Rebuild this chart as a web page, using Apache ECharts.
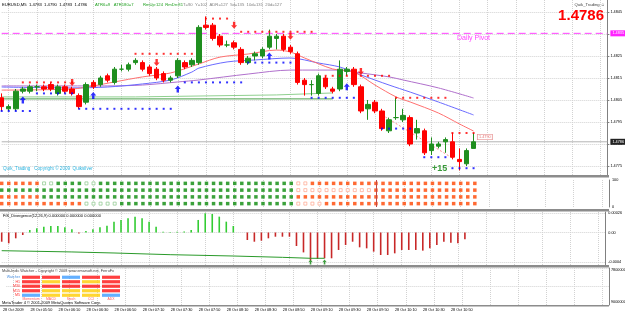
<!DOCTYPE html>
<html>
<head>
<meta charset="utf-8">
<script src="https://cdn.jsdelivr.net/npm/echarts@6/dist/echarts.min.js"></script>
<style>
html, body { margin: 0; padding: 0; background: #fff; }
#chart { width: 625px; height: 314px; }
</style>
</head>
<body>
<div id="chart"></div>
<script>
// EURUSD M5, bar 0 = 28 Oct 05:25
var START_MIN = 5 * 60 + 25;
var SLOTS = 87;

// [open, close, low, high]
var CANDLES = [
    [1.4806, 1.4802, 1.4800, 1.4808], [1.4801, 1.4802, 1.4800, 1.4803], [1.4801, 1.4809, 1.4800, 1.4810],
    [1.4809, 1.4810, 1.4808, 1.4811], [1.4809, 1.4811, 1.4808, 1.4812], [1.4811, 1.4811, 1.4809, 1.4812],
    [1.4811, 1.4810, 1.4809, 1.4812], [1.4812, 1.4810, 1.4809, 1.4813], [1.4808, 1.4811, 1.4807, 1.4812],
    [1.4811, 1.4809, 1.4808, 1.4812], [1.4810, 1.4808, 1.4807, 1.4811], [1.4807, 1.4802, 1.4801, 1.4808],
    [1.4804, 1.4812, 1.4803, 1.4813], [1.4813, 1.4811, 1.4810, 1.4814], [1.4812, 1.4815, 1.4811, 1.4816],
    [1.4816, 1.4814, 1.4813, 1.4817], [1.4813, 1.4819, 1.4812, 1.4820], [1.4819, 1.4819, 1.4818, 1.4821],
    [1.4819, 1.4821, 1.4818, 1.4822], [1.4822, 1.4823, 1.4821, 1.4824], [1.4822, 1.4819, 1.4818, 1.4823],
    [1.4820, 1.4817, 1.4816, 1.4821], [1.4819, 1.4815, 1.4814, 1.4820], [1.4817, 1.4814, 1.4813, 1.4818],
    [1.4814, 1.4815, 1.4813, 1.4816], [1.4816, 1.4823, 1.4815, 1.4824], [1.4822, 1.4820, 1.4819, 1.4823],
    [1.4821, 1.4823, 1.4820, 1.4824], [1.4822, 1.4838, 1.4821, 1.4839], [1.4839, 1.4838, 1.4837, 1.4843],
    [1.4839, 1.4833, 1.4832, 1.4840], [1.4834, 1.4830, 1.4829, 1.4835], [1.4830, 1.4830, 1.4829, 1.4832],
    [1.4831, 1.4829, 1.4828, 1.4832], [1.4828, 1.4822, 1.4821, 1.4829], [1.4822, 1.4824, 1.4821, 1.4825],
    [1.4825, 1.4826, 1.4823, 1.4827], [1.4825, 1.4828, 1.4824, 1.4829], [1.4829, 1.4834, 1.4828, 1.4837],
    [1.4833, 1.4834, 1.4828, 1.4835], [1.4834, 1.4828, 1.4827, 1.4835], [1.4829, 1.4827, 1.4826, 1.4830],
    [1.4826, 1.4813, 1.4812, 1.4827], [1.4814, 1.4812, 1.4807, 1.4815], [1.4812, 1.4812, 1.4807, 1.4814],
    [1.4808, 1.4816, 1.4807, 1.4817], [1.4815, 1.4811, 1.4810, 1.4816], [1.4810, 1.4809, 1.4808, 1.4811],
    [1.4810, 1.4819, 1.4809, 1.4823], [1.4818, 1.4819, 1.4816, 1.4820], [1.4819, 1.4812, 1.4811, 1.4820],
    [1.4811, 1.4800, 1.4799, 1.4812], [1.4801, 1.4803, 1.4796, 1.4805], [1.4804, 1.4800, 1.4799, 1.4805],
    [1.4800, 1.4792, 1.4791, 1.4801], [1.4791, 1.4796, 1.4790, 1.4797], [1.4797, 1.4797, 1.4796, 1.4806],
    [1.4796, 1.4798, 1.4795, 1.4801], [1.4797, 1.4785, 1.4784, 1.4798], [1.4790, 1.4792, 1.4787, 1.4796],
    [1.4791, 1.4781, 1.4780, 1.4792], [1.4782, 1.4785, 1.4780, 1.4788], [1.4784, 1.4785, 1.4783, 1.4786],
    [1.4786, 1.4787, 1.4781, 1.4788], [1.4786, 1.4779, 1.4778, 1.4790], [1.4778, 1.4777, 1.4773, 1.4783],
    [1.4776, 1.4782, 1.4775, 1.4783], [1.4783, 1.4786, 1.4783, 1.4790]
];

// moving averages, [bar, price]
var MA_FAST = [[0, 1.48095], [10, 1.48100], [13, 1.48114], [16, 1.48132], [20, 1.48155], [24, 1.48173],
    [28, 1.48214], [31, 1.48245], [35, 1.48259], [39, 1.48277], [41, 1.48268], [43, 1.48241], [47, 1.48191],
    [50, 1.48177], [53, 1.48118], [56, 1.48064], [58, 1.48041], [62, 1.47991], [65, 1.47941], [67, 1.47909]];
var MA_MID = [[0, 1.48109], [10, 1.48105], [15, 1.48109], [20, 1.48123], [24, 1.48141], [27, 1.48177],
    [28, 1.48195], [32, 1.48223], [36, 1.48232], [41, 1.48241], [45, 1.48218], [48, 1.48200], [51, 1.48164],
    [55, 1.48118], [58, 1.48086], [62, 1.48041], [67, 1.47982]];
var MA_SLOW = [[0, 1.48114], [15, 1.48114], [20, 1.48118], [25, 1.48132], [28, 1.48141], [35, 1.48168],
    [41, 1.48186], [48, 1.48186], [51, 1.48173], [55, 1.48155], [57, 1.48141], [62, 1.48105], [67, 1.48059]];

// green levels (step lines)
var LEVEL_A = [[0, 1.48064], [19, 1.48073], [39, 1.48082], [47, 1.48082]];
var LEVEL_B = [[0, 1.48055], [47, 1.48055]];
var TREND = [[54, 1.47982], [64, 1.47786]];

// trailing stops [fromBar, toBar, price]
var RED_STOPS = [[3, 10, 1.4813], [19, 27, 1.4826], [29, 32, 1.4842], [34, 44, 1.4836], [46, 55, 1.4816],
    [56, 63, 1.4806], [64, 67, 1.4790]];
var BLUE_STOPS = [[0, 4, 1.4800], [5, 10, 1.4808], [11, 24, 1.4801], [26, 34, 1.4813], [35, 41, 1.4822],
    [44, 50, 1.4806], [54, 58, 1.4792], [60, 63, 1.4779], [64, 67, 1.4774]];

// signal arrows [bar, price]
var BUY_ARROWS = [[3, 1.4805], [13, 1.4807], [25, 1.4810], [38, 1.4825], [49, 1.4811]];
var SELL_ARROWS = [[10, 1.4813], [22, 1.4822], [33, 1.4839], [41, 1.4834], [51, 1.4818]];

var PIVOT = 1.48353;
var BID = 1.4786;
var PRICE_TICKS = [1.4775, 1.4785, 1.4795, 1.4805, 1.4815, 1.4825, 1.4835, 1.4845];
var Y_MAX = 1.485045;
var Y_MIN = 1.477091;
var BAR_COUNT = 68;

// square indicator: O filled orange, G filled green, o / g hollow
var SQUARE_ROWS = [
    'OOOOOOggGGGGggGGGGGGGGGGGGGGGGGGGGGGGGGGGGooOOOOOOOOOOOOOOOOOOOOOOOO',
    'GGGGGGGGGGGGGGGGGGGGGGGGGGGGGGGGGGGGGGGGGGoooooooooooOOOOOOOOOOOOOOO',
    'OOOOOOGGGGGGGGGGGGGGGGGGGGGGGGGGGGGGGGGGGGOOOOOOOOOOOOOOOOOOOOOOOOOO',
    'OOOOOOOOOOOOgggggGGGGGGGGGGGGGGGGGGGGGGGGGooooOOOOOOOOOOOOOOOOOOOOOO'
];
var SQUARE_MARK_BAR = 53;

// FiS divergence histogram
var HIST = [-0.000125, -0.000147, -0.000079, -0.000034, 0.000034, 0.000057, 0.000079, 0.000088, 0.000088, 0.00007,
    0.000043, -0.000014, 0.00002, 0.000043, 0.00007, 0.000093, 0.000147, 0.00017, 0.000192, 0.000215,
    0.000192, 0.000147, 0.000079, 0.000011, 0.000008, 0.00001, 0.000015, 0.000034, 0.00017, 0.00026,
    0.000251, 0.000215, 0.000147, 0.000088, 0, -0.000102, -0.000125, -0.000111, -0.000079, -0.000057,
    -0.000057, -0.000057, -0.000183, -0.00027, -0.00038, -0.00036, -0.00035, -0.00035, -0.000237, -0.00017,
    -0.000125, -0.000201, -0.000215, -0.00026, -0.000305, -0.000305, -0.000283, -0.000237, -0.000237, -0.000237,
    -0.000246, -0.000215, -0.00017, -0.000125, -0.000138, -0.000147, -0.000093, 0];
var SIGNAL = [[0, -0.000247], [10, -0.000264], [16, -0.000278], [24, -0.000301], [33, -0.000319],
    [40, -0.000337], [44, -0.00035], [46, -0.00035]];
var DIV_ARROWS = [[44, -0.0004], [46, -0.0004]];
var DIV_TICKS = [-0.0004, 0, 0.00026];

// multi-indicator watcher table
var WATCH_COLS = ['Momentum', 'MACD', 'Stoch', 'CCI', 'ADX'];
var WATCH_ROWS = ['Watcher', 'H1', 'M30', 'M15', 'M5'];
var WATCH_STATE = ['RRBRR', 'RYRYR', 'RRRRR', 'RYYYR', 'BYYYB'];
var WATCH_COLORS = { R: '#ff1010', Y: '#ffcc00', B: '#3d9cff' };


var chart = echarts.init(document.getElementById('chart'));

var times = [];
for (var i = 0; i < SLOTS; i++) {
    var m = START_MIN + 5 * i;
    times.push(('0' + Math.floor(m / 60)).slice(-2) + ':' + ('0' + (m % 60)).slice(-2));
}

var gridEvery = function (index) { return index % 4 === 1; };
var labelEvery = function (index) { return index % 4 === 1 && index < BAR_COUNT; };

function stopPoints(segs) {
    var out = [];
    segs.forEach(function (s) {
        for (var b = s[0]; b <= s[1]; b++) out.push([b, s[2]]);
    });
    return out;
}

function squares(code) {
    var out = [];
    SQUARE_ROWS.forEach(function (row, r) {
        for (var b = 0; b < row.length; b++) if (row[b] === code) out.push([b, r]);
    });
    return out;
}

var redStops = stopPoints(RED_STOPS);
var last = redStops[redStops.length - 1];
redStops[redStops.length - 1] = {
    value: last,
    label: {
        show: true, position: 'right', distance: 3, offset: [0, 4],
        formatter: last[1].toFixed(4), fontSize: 3.8, color: '#e05050',
        borderColor: '#e07070', borderWidth: 0.6, padding: [0.5, 1.5], backgroundColor: '#fff'
    }
};

var cellData = [];
WATCH_STATE.forEach(function (row, r) {
    for (var c = 0; c < row.length; c++) {
        cellData.push({ value: [c, r], itemStyle: { color: WATCH_COLORS[row[c]] } });
    }
});

var gridLine = { color: '#d2d2d2', width: 1, type: 'dotted' };
var frame = { color: '#808080', width: 1 };

function timeAxis(gi, showLabels) {
    return {
        type: 'category', gridIndex: gi, data: times, boundaryGap: false,
        axisLine: { show: false }, axisTick: { show: false },
        axisLabel: {
            show: showLabels, interval: labelEvery, fontSize: 3.8, color: '#000', margin: 3,
            formatter: function (v, idx) { return idx === 1 ? '28 Oct 2009' : '28 Oct ' + v; }
        },
        splitLine: { show: true, interval: gridEvery, lineStyle: gridLine }
    };
}

var upArrow = 'path://M5,0L10,5H7V10H3V5H0Z';
var downArrow = 'path://M3,0H7V5H10L5,10L0,5H3Z';

function txt(x, y, s, color, size, extra) {
    var st = { x: x, y: y, text: s, fill: color, font: (extra || '') + ' ' + size + 'px "Liberation Sans"', verticalAlign: 'middle', align: 'left' };
    return { type: 'text', z: 50, style: st };
}

var graphics = [
    txt(2, 5, 'EURUSD,M5  1.4783  1.4790  1.4783  1.4786', '#000', 4.2),
    txt(95, 5, 'ATR6=9   ATR180=7', '#22a022', 4.2),
    txt(143, 5, 'RmUp:124  RmDn:81', '#22a022', 4.2),
    txt(183, 5, 'T=90', '#808080', 4.2),
    txt(195, 5, 'Y=102  ADR=127  5d=135  10d=131  20d=127', '#808080', 4.2),
    txt(457, 38, 'Daily Pivot', '#ff44ff', 7),
    txt(3, 169, 'Quik_Trading   Copyright \u00a9 2009  Quiksilver', '#2fb5e0', 4.6),
    txt(432, 169, '+15', '#3a9a3a', 9, 'bold'),
    txt(3, 216, 'FiS_Divergence(12,26,9) 0.000000 0.000000 0.000000', '#000', 4),
    txt(2, 271, 'Multi-Indic Watcher - Copyright \u00a9 2008 www.emarsoft.net, FerruFx', '#404040', 3.8),
    txt(2, 302.5, 'MetaTrader 4 \u00a9 2001-2009 MetaQuotes Software Corp.', '#000', 4),
    txt(611, 270, '7800000', '#000', 3.8),
    txt(611, 302, '9000000', '#000', 3.8)
];
var qt = txt(605, 5, 'Quik_Trading \u263a', '#404040', 4.2);
qt.style.align = 'right';
graphics.push(qt);
var big = txt(604, 15.5, '1.4786', '#ff0000', 15, 'bold');
big.style.align = 'right';
graphics.push(big);
[[175, 2.5], [209, 2.5], [265, 2.5], [305, 1.5]].forEach(function (s) {
    graphics.push({ type: 'rect', z: 60, shape: { x: 0, y: s[0], width: 609, height: s[1] }, style: { fill: '#8c8c8c' } });
});

// horizontal price level across the whole pane with a price box on the scale
function levelSeries(value, color, dash, boxColor) {
    return {
        type: 'line', xAxisIndex: 0, yAxisIndex: 0, z: 1, silent: true, showSymbol: false,
        data: [[0, value], [SLOTS - 1, value]],
        lineStyle: { color: color, type: dash, width: 1 },
        itemStyle: { color: color },
        endLabel: {
            show: true, distance: 3, formatter: value.toFixed(4), fontSize: 3.8, color: '#fff',
            backgroundColor: boxColor, padding: [1, 2]
        }
    };
}

chart.setOption({
    animation: false,
    backgroundColor: '#fff',
    textStyle: { fontFamily: 'Liberation Sans' },

    grid: [
        { left: 1.7, right: 16, top: 0, height: 175 },
        { left: 1.7, right: 16, top: 180, height: 27 },
        { left: 1.7, right: 16, top: 212, height: 53 },
        { left: 1.7, right: 16, top: 268, height: 37 },
        { left: 21, width: 100, top: 275, height: 22.5 }
    ],

    xAxis: [
        timeAxis(0, false),
        timeAxis(1, false),
        timeAxis(2, false),
        timeAxis(3, true),
        {
            type: 'category', gridIndex: 4, data: WATCH_COLS,
            axisLine: { show: false }, axisTick: { show: false },
            axisLabel: { fontSize: 3.4, color: '#ff5a5a', margin: 0.5, interval: 0 },
            splitLine: { show: false }
        }
    ],

    yAxis: [
        {
            type: 'value', gridIndex: 0, position: 'right', min: Y_MIN, max: Y_MAX,
            axisLine: { show: true, lineStyle: frame },
            axisTick: { show: true, length: 2, customValues: PRICE_TICKS, lineStyle: frame },
            axisLabel: {
                customValues: PRICE_TICKS, fontSize: 3.8, color: '#000', margin: 3,
                formatter: function (v) { return v.toFixed(4); }
            },
            splitLine: { show: true, lineStyle: gridLine }
        },
        {
            type: 'value', gridIndex: 1, position: 'right', min: 0, max: 100, interval: 100,
            axisLine: { show: true, lineStyle: frame },
            axisTick: { show: false },
            axisLabel: { fontSize: 3.8, color: '#000', margin: 3 },
            splitLine: { show: false }
        },
        {
            type: 'category', gridIndex: 1, data: ['a', 'b', 'c', 'd'], inverse: true, show: false
        },
        {
            type: 'value', gridIndex: 2, position: 'right', min: -0.000441, max: 0.000278,
            axisLine: { show: true, lineStyle: frame },
            axisTick: { show: false, customValues: DIV_TICKS },
            axisLabel: {
                customValues: DIV_TICKS, fontSize: 3.8, color: '#000', margin: 3,
                formatter: function (v) { return v === 0 ? '0.00' : String(v); }
            },
            splitLine: { show: true, lineStyle: gridLine }
        },
        {
            type: 'value', gridIndex: 3, position: 'right', min: 0, max: 100, interval: 50,
            axisLine: { show: true, lineStyle: frame },
            axisTick: { show: false }, axisLabel: { show: false },
            splitLine: { show: true, lineStyle: gridLine }
        },
        {
            type: 'category', gridIndex: 4, data: WATCH_ROWS, inverse: true,
            axisLine: { show: false }, axisTick: { show: false },
            axisLabel: {
                fontSize: 3.6, margin: 1, interval: 0,
                color: function (v) { return v === 'Watcher' ? '#4a90e2' : '#ff3030'; }
            },
            splitLine: { show: false }
        }
    ],

    graphic: graphics,

    series: [
        levelSeries(PIVOT, '#ff40ff', [7, 4], '#ff22ff'),
        levelSeries(BID, '#b4b4b4', 'solid', '#222'),
        {
            type: 'candlestick', xAxisIndex: 0, yAxisIndex: 0, z: 4, barWidth: 5,
            itemStyle: { color: '#1f8f1f', color0: '#ff0000', borderColor: '#1f8f1f', borderColor0: '#ff0000', borderWidth: 1 },
            data: CANDLES
        },
        { type: 'line', xAxisIndex: 0, yAxisIndex: 0, z: 2, data: MA_SLOW, smooth: 0.3, showSymbol: false, lineStyle: { color: '#b070cc', width: 1 } },
        { type: 'line', xAxisIndex: 0, yAxisIndex: 0, z: 2, data: MA_MID, smooth: 0.3, showSymbol: false, lineStyle: { color: '#6a6aff', width: 1 } },
        { type: 'line', xAxisIndex: 0, yAxisIndex: 0, z: 2, data: MA_FAST, smooth: 0.3, showSymbol: false, lineStyle: { color: '#ff7070', width: 1 } },
        { type: 'line', xAxisIndex: 0, yAxisIndex: 0, z: 2, data: LEVEL_A, step: 'end', showSymbol: false, lineStyle: { color: '#8fd08f', width: 1 } },
        { type: 'line', xAxisIndex: 0, yAxisIndex: 0, z: 2, data: LEVEL_B, showSymbol: false, lineStyle: { color: '#4aa04a', width: 1 } },
        { type: 'line', xAxisIndex: 0, yAxisIndex: 0, z: 2, data: TREND, showSymbol: false, lineStyle: { color: '#ff9090', width: 1, type: [2, 2] } },
        { type: 'scatter', xAxisIndex: 0, yAxisIndex: 0, z: 5, symbol: 'rect', symbolSize: 2, itemStyle: { color: '#ff0000' }, data: redStops },
        { type: 'scatter', xAxisIndex: 0, yAxisIndex: 0, z: 5, symbol: 'rect', symbolSize: 2, itemStyle: { color: '#0000ff' }, data: stopPoints(BLUE_STOPS) },
        { type: 'scatter', xAxisIndex: 0, yAxisIndex: 0, z: 6, symbol: upArrow, symbolSize: [6, 7], itemStyle: { color: '#0000ff' }, data: BUY_ARROWS },
        { type: 'scatter', xAxisIndex: 0, yAxisIndex: 0, z: 6, symbol: downArrow, symbolSize: [6, 7], itemStyle: { color: '#ff0000' }, data: SELL_ARROWS },

        {
            type: 'scatter', xAxisIndex: 1, yAxisIndex: 2, symbol: 'rect', symbolSize: 3.5,
            itemStyle: { color: '#ff4500' }, data: squares('O'),
            markLine: {
                silent: true, symbol: ['none', 'none'], label: { show: false },
                lineStyle: { color: '#c04848', width: 1, type: 'solid' },
                data: [{ xAxis: SQUARE_MARK_BAR }]
            }
        },
        { type: 'scatter', xAxisIndex: 1, yAxisIndex: 2, symbol: 'rect', symbolSize: 3.5, itemStyle: { color: '#0a8a0a' }, data: squares('G') },
        { type: 'scatter', xAxisIndex: 1, yAxisIndex: 2, symbol: 'rect', symbolSize: 3, itemStyle: { color: '#fff', borderColor: '#ff9a80', borderWidth: 0.8 }, data: squares('o') },
        { type: 'scatter', xAxisIndex: 1, yAxisIndex: 2, symbol: 'rect', symbolSize: 3, itemStyle: { color: '#fff', borderColor: '#7cc07c', borderWidth: 0.8 }, data: squares('g') },

        {
            type: 'bar', xAxisIndex: 2, yAxisIndex: 3, barWidth: 1.6, data: HIST,
            itemStyle: { color: function (p) { return p.value >= 0 ? '#33cc33' : '#c82828'; } }
        },
        { type: 'line', xAxisIndex: 2, yAxisIndex: 3, data: SIGNAL, showSymbol: false, lineStyle: { color: '#2a9a2a', width: 1 } },
        { type: 'scatter', xAxisIndex: 2, yAxisIndex: 3, symbol: upArrow, symbolSize: [4, 5], itemStyle: { color: '#118811' }, data: DIV_ARROWS },

        { type: 'scatter', xAxisIndex: 4, yAxisIndex: 5, symbol: 'rect', symbolSize: [18, 3.2], data: cellData }
    ]
});
</script>
</body>
</html>
